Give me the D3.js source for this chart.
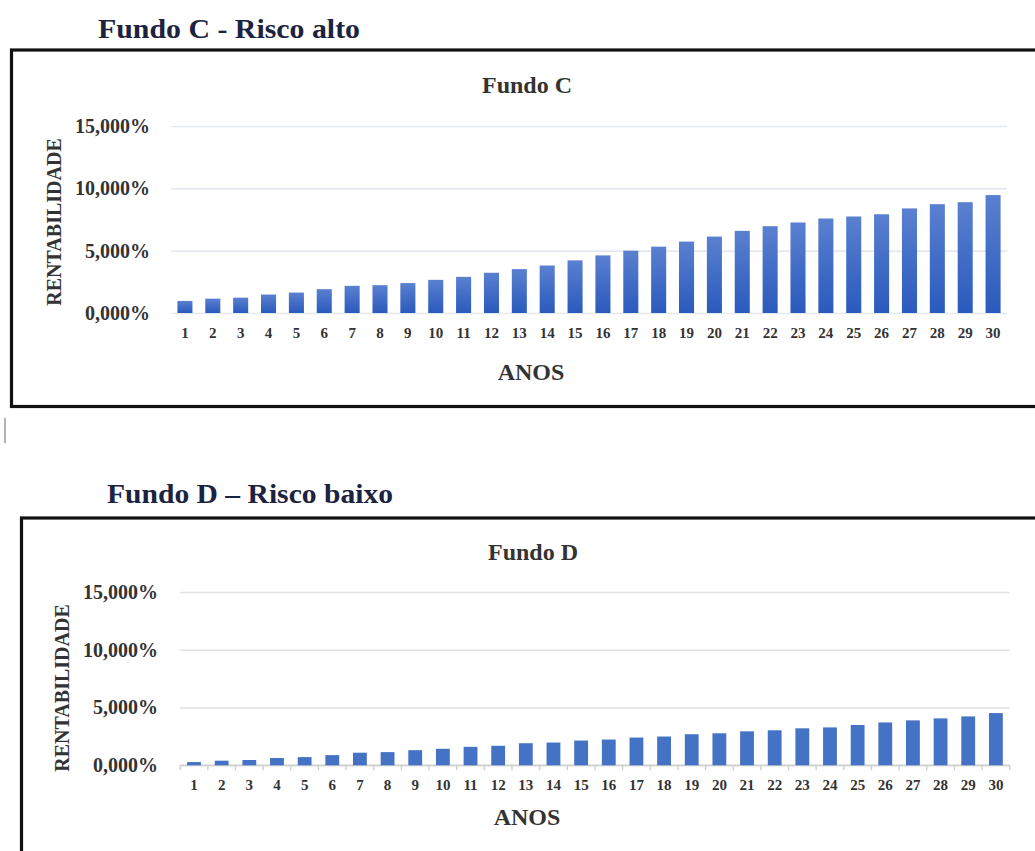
<!DOCTYPE html>
<html lang="pt">
<head>
<meta charset="utf-8">
<title>Fundo C e Fundo D – Rentabilidade</title>
<script src="https://cdn.jsdelivr.net/npm/d3@7/dist/d3.min.js"></script>
<style>
  html, body { margin: 0; padding: 0; background: #ffffff; }
  svg { display: block; }
  text { font-family: "Liberation Serif", "Times New Roman", serif; font-weight: bold; }
</style>
</head>
<body>
<script>
// ---- Dados ----
const anos = [1, 2, 3, 4, 5, 6, 7, 8, 9, 10, 11, 12, 13, 14, 15,
              16, 17, 18, 19, 20, 21, 22, 23, 24, 25, 26, 27, 28, 29, 30];

// Rentabilidade acumulada (%) por ano
const fundoC = [0.97, 1.15, 1.23, 1.48, 1.64, 1.91, 2.18, 2.23, 2.40, 2.66,
                2.90, 3.23, 3.52, 3.81, 4.22, 4.62, 5.00, 5.32, 5.73, 6.13,
                6.59, 6.96, 7.26, 7.58, 7.74, 7.92, 8.39, 8.73, 8.89, 9.46];

const fundoD = [0.28, 0.40, 0.46, 0.63, 0.71, 0.88, 1.09, 1.14, 1.31, 1.43,
                1.60, 1.69, 1.91, 1.97, 2.14, 2.23, 2.40, 2.49, 2.69, 2.77,
                2.94, 3.03, 3.20, 3.28, 3.49, 3.71, 3.89, 4.06, 4.23, 4.52];

const yTicks = [0, 5, 10, 15];
const yDomain = [0, 15];

// Formato brasileiro: vírgula decimal
const ptBR = d3.formatLocale({ decimal: ",", thousands: ".", grouping: [3], currency: ["R$", ""] });
const fmtPct = v => ptBR.format(".3f")(v) + "%";

// ---- Layout dos painéis ----
const panels = [
  {
    id: "c",
    heading: "Fundo C - Risco alto", headingX: 98, headingY: 38, headingLen: 262,
    frame: { x: 11.5, y: 50, w: 1040, h: 356.5 },
    title: "Fundo C", titleX: 527, titleY: 93,
    plot: { left: 171, right: 1007, bottom: 313, top: 126 },
    yLabelRight: 150, yTitleX: 53.5, yTitleY: 222,
    xTickY: 333, xTitle: "ANOS", xTitleX: 531, xTitleY: 380,
    values: fundoC, padding: 0.46,
    gridColor: "#e4e9f0", gradient: true, baseAxis: false
  },
  {
    id: "d",
    heading: "Fundo D \u2013 Risco baixo", headingX: 107, headingY: 503, headingLen: 286,
    frame: { x: 21.5, y: 518, w: 1030, h: 400 },
    title: "Fundo D", titleX: 533, titleY: 560,
    plot: { left: 180.2, right: 1009.7, bottom: 765.3, top: 592 },
    yLabelRight: 158, yTitleX: 61.5, yTitleY: 688,
    xTickY: 785, xTitle: "ANOS", xTitleX: 527, xTitleY: 825,
    values: fundoD, padding: 0.5,
    gridColor: "#e2e2e2", gradient: false, baseAxis: true
  }
];

const svg = d3.select("body").append("svg")
  .attr("width", 1035)
  .attr("height", 851);

// Gradiente das barras do Fundo C
const defs = svg.append("defs");
const grad = defs.append("linearGradient")
  .attr("id", "barGradC")
  .attr("x1", 0).attr("y1", 0).attr("x2", 0).attr("y2", 1);
grad.append("stop").attr("offset", "0%").attr("stop-color", "#5a80d0");
grad.append("stop").attr("offset", "100%").attr("stop-color", "#2a5abd");

// Cursor de texto entre os dois quadros
svg.append("line")
  .attr("x1", 5).attr("x2", 5)
  .attr("y1", 418).attr("y2", 443)
  .attr("stroke", "#9a9a9a").attr("stroke-width", 1.5);

panels.forEach(p => {
  const g = svg.append("g").attr("class", "panel-" + p.id);

  // Título da seção (acima do quadro)
  g.append("text")
    .attr("x", p.headingX).attr("y", p.headingY)
    .attr("textLength", p.headingLen)
    .attr("lengthAdjust", "spacingAndGlyphs")
    .attr("font-size", 27)
    .attr("fill", "#1c2340")
    .text(p.heading);

  // Moldura do gráfico
  g.append("rect")
    .attr("x", p.frame.x).attr("y", p.frame.y)
    .attr("width", p.frame.w).attr("height", p.frame.h)
    .attr("fill", "#ffffff")
    .attr("stroke", "#111111").attr("stroke-width", 3.2);

  // Escalas
  const x = d3.scaleBand()
    .domain(anos)
    .range([p.plot.left, p.plot.right])
    .paddingInner(p.padding)
    .paddingOuter(p.padding / 2);

  const y = d3.scaleLinear()
    .domain(yDomain)
    .range([p.plot.bottom, p.plot.top]);

  // Eixo Y com linhas de grade
  const yAxis = d3.axisLeft(y)
    .tickValues(yTicks)
    .tickFormat(fmtPct)
    .tickSize(-(p.plot.right - p.plot.left))
    .tickPadding(p.plot.left - p.yLabelRight);

  const yg = g.append("g")
    .attr("transform", `translate(${p.plot.left},0)`)
    .call(yAxis);
  yg.select(".domain").remove();
  yg.selectAll(".tick line")
    .attr("stroke", p.gridColor).attr("stroke-width", 1.6);
  yg.selectAll(".tick text")
    .attr("font-family", "Liberation Serif, Times New Roman, serif")
    .attr("font-weight", "bold")
    .attr("font-size", 20)
    .attr("fill", "#333333");

  // Linha de base com marcas entre categorias
  if (p.baseAxis) {
    const step = x.step();
    const edges = anos.map(a => x(a) - step * p.padding / 2).concat([p.plot.right]);
    g.append("line")
      .attr("x1", p.plot.left).attr("x2", p.plot.right)
      .attr("y1", y(0)).attr("y2", y(0))
      .attr("stroke", "#cfcfcf").attr("stroke-width", 1.6);
    g.selectAll("line.edge").data(edges).join("line")
      .attr("class", "edge")
      .attr("x1", d => d).attr("x2", d => d)
      .attr("y1", y(0)).attr("y2", y(0) + 5)
      .attr("stroke", "#cfcfcf").attr("stroke-width", 1.4);
  }

  // Barras
  g.selectAll("rect.bar").data(p.values).join("rect")
    .attr("class", "bar")
    .attr("x", (d, i) => x(anos[i]))
    .attr("width", x.bandwidth())
    .attr("y", d => y(d))
    .attr("height", d => y(0) - y(d))
    .attr("fill", p.gradient ? "url(#barGradC)" : "#4472c4");

  // Eixo X (rótulos dos anos)
  const xAxis = d3.axisBottom(x).tickSize(0).tickPadding(0);
  const xg = g.append("g")
    .attr("transform", `translate(0,${p.xTickY})`)
    .call(xAxis);
  xg.select(".domain").remove();
  xg.selectAll(".tick text")
    .attr("y", 0).attr("dy", "0.35em")
    .attr("font-family", "Liberation Serif, Times New Roman, serif")
    .attr("font-weight", "bold")
    .attr("font-size", 15)
    .attr("fill", "#333333");

  // Título interno do gráfico
  g.append("text")
    .attr("x", p.titleX).attr("y", p.titleY)
    .attr("text-anchor", "middle")
    .attr("font-size", 24)
    .attr("fill", "#333333")
    .text(p.title);

  // Título do eixo X
  g.append("text")
    .attr("x", p.xTitleX).attr("y", p.xTitleY)
    .attr("text-anchor", "middle")
    .attr("font-size", 24)
    .attr("fill", "#333333")
    .text(p.xTitle);

  // Título do eixo Y
  g.append("text")
    .attr("transform", `translate(${p.yTitleX},${p.yTitleY}) rotate(-90)`)
    .attr("text-anchor", "middle")
    .attr("dy", "0.35em")
    .attr("font-size", 20)
    .attr("fill", "#333333")
    .text("RENTABILIDADE");
});
</script>
</body>
</html>
